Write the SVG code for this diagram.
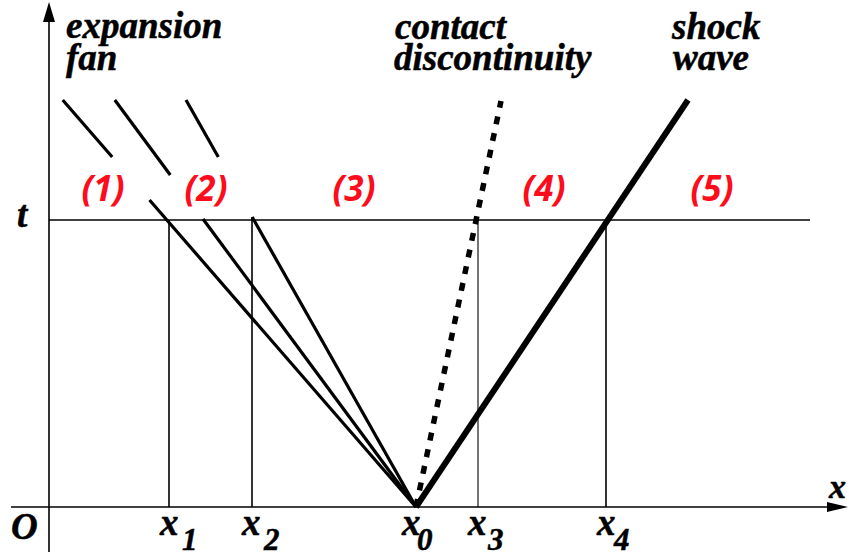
<svg xmlns="http://www.w3.org/2000/svg" width="849" height="554" viewBox="0 0 849 554">
<style>
.lbl{font-family:"Liberation Serif","Times New Roman",serif;font-weight:bold;font-style:italic;font-size:37px;fill:#000;stroke:#000;stroke-width:0.5}
.sub{font-size:31px}
.reg{font-family:"Open Sans","Liberation Sans",sans-serif;font-weight:bold;font-style:italic;font-size:35px;fill:#fd0d1b;text-anchor:middle}
.thin{stroke:#000;stroke-width:1.6;fill:none}
.fan{stroke:#000;stroke-width:3.2;fill:none}
</style>
<rect width="849" height="554" fill="#fff"/>
<g id="axes">
  <line class="thin" x1="49" y1="552" x2="49" y2="18"/>
  <polygon points="49,2 43,22 55,22" fill="#000"/>
  <line class="thin" x1="11" y1="507" x2="830" y2="507"/>
  <polygon points="848,507 827,502 827,512" fill="#000"/>
  <text class="lbl" x="11" y="539">O</text>
  <text class="lbl" x="17" y="227">t</text>
  <text class="lbl" x="829" y="498" style="font-size:34px">x</text>
</g>
<g id="t-line">
  <line class="thin" x1="49" y1="220" x2="810" y2="220"/>
</g>
<g id="verticals">
  <line class="thin" x1="169" y1="220" x2="169" y2="507"/>
  <line class="thin" x1="252" y1="217" x2="252" y2="507"/>
  <line class="thin" x1="478" y1="220" x2="478" y2="507" style="stroke-width:1.1"/>
  <line class="thin" x1="606" y1="220" x2="606" y2="507"/>
</g>
<g id="connectors">
  <g id="expansion-fan">
    <line class="fan" x1="416" y1="507" x2="149.5" y2="200"/>
    <line class="fan" x1="112.2" y1="157" x2="62.7" y2="100"/>
    <line class="fan" x1="416" y1="507" x2="203" y2="219"/>
    <line class="fan" x1="170.3" y1="175" x2="114.8" y2="100"/>
    <line class="fan" x1="416" y1="507" x2="252.2" y2="217"/>
    <line class="fan" x1="218.3" y1="157" x2="186" y2="100"/>
  </g>
  <line id="contact-discontinuity" x1="416" y1="507" x2="501" y2="101" stroke="#000" stroke-width="5.5" stroke-dasharray="8 9"/>
  <line id="shock-wave" x1="416" y1="507" x2="688" y2="100" stroke="#000" stroke-width="6"/>
</g>
<g id="captions">
  <text class="lbl" x="66" y="38">expansion</text>
  <text class="lbl" x="66" y="70">fan</text>
  <text class="lbl" x="395" y="39">contact</text>
  <text class="lbl" x="394" y="70">discontinuity</text>
  <text class="lbl" x="672" y="39">shock</text>
  <text class="lbl" x="673" y="70">wave</text>
</g>
<g id="regions">
  <text class="reg" x="103" y="201">(1)</text>
  <text class="reg" x="206" y="201">(2)</text>
  <text class="reg" x="354" y="201">(3)</text>
  <text class="reg" x="544" y="201">(4)</text>
  <text class="reg" x="712" y="201">(5)</text>
</g>
<g id="x-labels">
  <text class="lbl" x="160" y="535">x</text><text class="lbl sub" x="182" y="550">1</text>
  <text class="lbl" x="242" y="535">x</text><text class="lbl sub" x="264" y="550">2</text>
  <text class="lbl" x="402" y="535">x</text><text class="lbl sub" x="417" y="550">0</text>
  <text class="lbl" x="468" y="535">x</text><text class="lbl sub" x="488" y="550">3</text>
  <text class="lbl" x="597" y="535">x</text><text class="lbl sub" x="614" y="550">4</text>
</g>
</svg>
